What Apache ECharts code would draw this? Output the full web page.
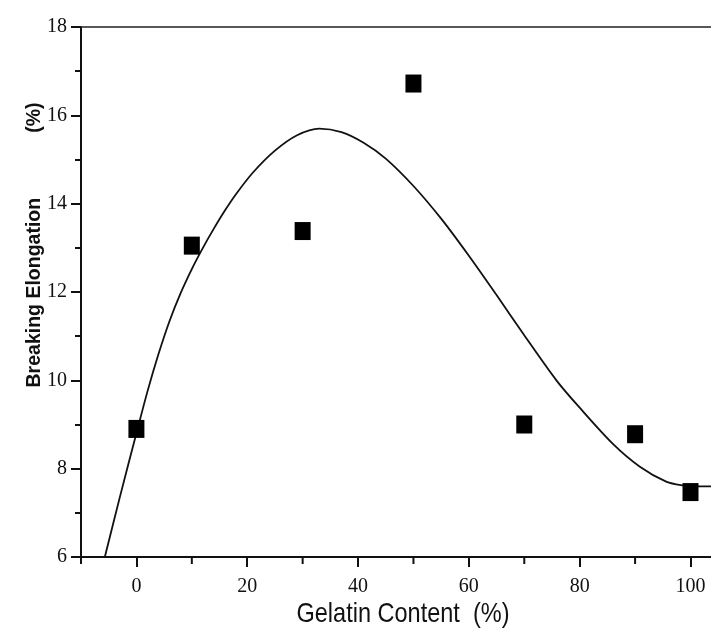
<!DOCTYPE html>
<html>
<head>
<meta charset="utf-8">
<script src="https://cdn.jsdelivr.net/npm/echarts@6/dist/echarts.min.js"></script>
<style>
html,body{margin:0;padding:0;background:#fff;}
#chart{width:711px;height:641px;}
</style>
</head>
<body>
<div id="chart"></div>
<script>
const gelatin = [0, 10, 30, 50, 70, 90, 100];
const elongation = [8.9, 13.05, 13.38, 16.72, 9.0, 8.78, 7.47];

// Fitted curve, points
const fitX = [-5.7, -3, 0, 2, 4, 6, 8, 10, 12, 14, 16, 18, 21, 25, 29, 33, 37, 41, 45, 50, 55, 60, 65, 70, 75.8, 80, 86, 90.8, 95.7, 98.7, 101, 104];
const fitY = [6.0, 7.35, 8.8, 9.75, 10.6, 11.35, 11.98, 12.52, 13.0, 13.44, 13.85, 14.22, 14.7, 15.2, 15.55, 15.7, 15.62, 15.38, 15.02, 14.4, 13.66, 12.82, 11.93, 11.02, 10.0, 9.38, 8.56, 8.05, 7.7, 7.62, 7.6, 7.6];

// x axis ticks
const xMajorTicks = [0, 20, 40, 60, 80, 100];
const xMinorTicks = [-10, 10, 30, 50, 70, 90];

const chart = echarts.init(document.getElementById('chart'), null, {renderer: 'canvas'});

const axisColor = '#111';
const tickFont = {fontFamily: '"Liberation Serif", "Times New Roman", serif', fontSize: 20, color: '#111'};
const Y_MIN = 6, Y_MAX = 18;

const option = {
  backgroundColor: '#fff',
  animation: false,
  grid: {left: 81, right: 0, top: 27, bottom: 84, containLabel: false},
  xAxis: [
    {
      type: 'value', min: -10, max: 103.7, position: 'bottom',
      axisLine: {show: true, onZero: false, lineStyle: {color: axisColor, width: 2}},
      axisTick: {show: true, customValues: xMajorTicks, length: 10, lineStyle: {color: axisColor, width: 2}},
      axisLabel: Object.assign({show: true, customValues: xMajorTicks, margin: 20}, tickFont),
      splitLine: {show: false}
    },
    {
      type: 'value', min: -10, max: 103.7, position: 'top',
      axisLine: {show: true, onZero: false, lineStyle: {color: '#222', width: 1.5}},
      axisTick: {show: false},
      axisLabel: {show: false},
      splitLine: {show: false}
    }
  ],
  yAxis: {
    type: 'value', min: Y_MIN, max: Y_MAX, interval: 2,
    axisLine: {show: true, onZero: false, lineStyle: {color: axisColor, width: 2}},
    axisTick: {show: true, length: 10, lineStyle: {color: axisColor, width: 2}},
    minorTick: {show: true, splitNumber: 2, length: 6, lineStyle: {color: axisColor, width: 2}},
    axisLabel: Object.assign({margin: 14}, tickFont),
    splitLine: {show: false}
  },
  graphic: [
    {
      type: 'text', x: 35, y: 245, rotation: Math.PI / 2,
      style: {
        text: 'Breaking Elongation            (%)',
        font: 'bold 19.5px "Liberation Sans", Arial, sans-serif',
        fill: '#111', textAlign: 'center', textVerticalAlign: 'middle'
      }
    },
    {
      type: 'text', x: 403, y: 614, scaleX: 0.84,
      style: {
        text: 'Gelatin Content  (%)',
        font: '28px "Liberation Sans", Arial, sans-serif',
        fill: '#111', textAlign: 'center', textVerticalAlign: 'middle'
      }
    }
  ],
  series: [
    {
      // short x-axis ticks, placed through the axis scale
      type: 'scatter', name: 'minorTicks', xAxisIndex: 0, clip: false, silent: true,
      data: xMinorTicks.map(v => [v, Y_MIN]),
      symbol: 'rect', symbolSize: [2, 7], symbolOffset: [0, 3.5],
      itemStyle: {color: axisColor, opacity: 1},
      z: 5
    },
    {
      type: 'line', name: 'fit', xAxisIndex: 0,
      data: fitX.map((x, i) => [x, fitY[i]]),
      smooth: 0.3, showSymbol: false, symbol: 'none',
      lineStyle: {color: '#111', width: 1.8},
      z: 2
    },
    {
      type: 'scatter', name: 'data', xAxisIndex: 0,
      data: gelatin.map((x, i) => [x, elongation[i]]),
      symbol: 'rect', symbolSize: [16, 18],
      itemStyle: {color: '#000', opacity: 1},
      z: 3
    }
  ]
};
chart.setOption(option);
</script>
</body>
</html>
